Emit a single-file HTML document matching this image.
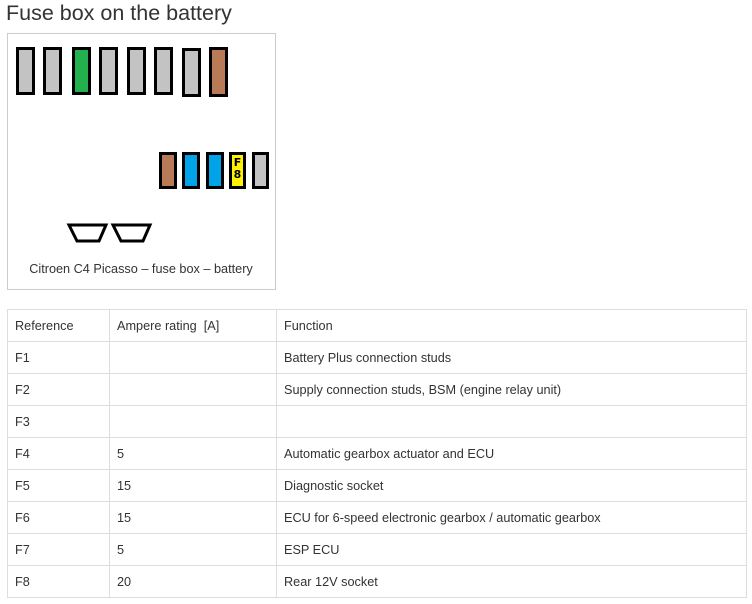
<!DOCTYPE html>
<html><head><meta charset="utf-8"><style>
body{margin:0;background:#fff;font-family:"Liberation Sans",Arial,sans-serif;color:#333;width:752px;height:604px;overflow:hidden;position:relative}
.t{position:absolute;left:6px;top:0px;font-size:21.5px;line-height:26px;color:#333}
.box{position:absolute;left:7px;top:33px;width:267px;height:255px;border:1px solid #ccc;box-sizing:content-box}
.f{position:absolute;box-sizing:border-box;border:3px solid #000}
.cap{position:absolute;left:7px;width:268px;top:262px;text-align:center;font-size:12.7px}
table{position:absolute;left:7px;top:309px;border-collapse:collapse;font-size:12.7px}
tr{height:32px}
td{border:1px solid #ddd;padding:0 7px;vertical-align:middle}
</style></head><body>
<div class="t">Fuse box on the battery</div>
<div class="box"></div>
<div class="f" style="left:16px;top:47px;width:19px;height:48px;background:#c3c3c3"></div>
<div class="f" style="left:43px;top:47px;width:19px;height:48px;background:#c3c3c3"></div>
<div class="f" style="left:72px;top:47px;width:19px;height:48px;background:#22b14c"></div>
<div class="f" style="left:99px;top:47px;width:19px;height:48px;background:#c3c3c3"></div>
<div class="f" style="left:127px;top:47px;width:19px;height:48px;background:#c3c3c3"></div>
<div class="f" style="left:154px;top:47px;width:19px;height:48px;background:#c3c3c3"></div>
<div class="f" style="left:182px;top:48px;width:19px;height:49px;background:#c3c3c3"></div>
<div class="f" style="left:209px;top:47px;width:19px;height:50px;background:#b97a57"></div>
<div class="f" style="left:159px;top:152px;width:18px;height:37px;background:#b97a57"></div>
<div class="f" style="left:182px;top:152px;width:18px;height:37px;background:#00a2e8"></div>
<div class="f" style="left:206px;top:152px;width:18px;height:37px;background:#00a2e8"></div>
<div class="f" style="left:229px;top:152px;width:17px;height:37px;background:#fff200;font:bold 11px 'DejaVu Sans',sans-serif;color:#000;text-align:center;line-height:12px;padding-top:2px">F<br>8</div>
<div class="f" style="left:252px;top:152px;width:17px;height:37px;background:#c3c3c3"></div>
<svg style="position:absolute;left:0;top:0" width="280" height="260">
<polygon points="69,225 106,225 99,241 77,241" fill="#fff" stroke="#000" stroke-width="3"/>
<polygon points="113,225 150,225 143,241 121,241" fill="#fff" stroke="#000" stroke-width="3"/>
</svg>
<div class="cap">Citroen C4 Picasso – fuse box – battery</div>
<table>
<tr><td style="width:87px">Reference</td><td style="width:152px">Ampere rating&nbsp; [A]</td><td style="width:455px">Function</td></tr>
<tr><td>F1</td><td></td><td>Battery Plus connection studs</td></tr>
<tr><td>F2</td><td></td><td>Supply connection studs, BSM (engine relay unit)</td></tr>
<tr><td>F3</td><td></td><td></td></tr>
<tr><td>F4</td><td>5</td><td>Automatic gearbox actuator and ECU</td></tr>
<tr><td>F5</td><td>15</td><td>Diagnostic socket</td></tr>
<tr><td>F6</td><td>15</td><td>ECU for 6-speed electronic gearbox / automatic gearbox</td></tr>
<tr><td>F7</td><td>5</td><td>ESP ECU</td></tr>
<tr><td>F8</td><td>20</td><td>Rear 12V socket</td></tr>
</table>
</body></html>
